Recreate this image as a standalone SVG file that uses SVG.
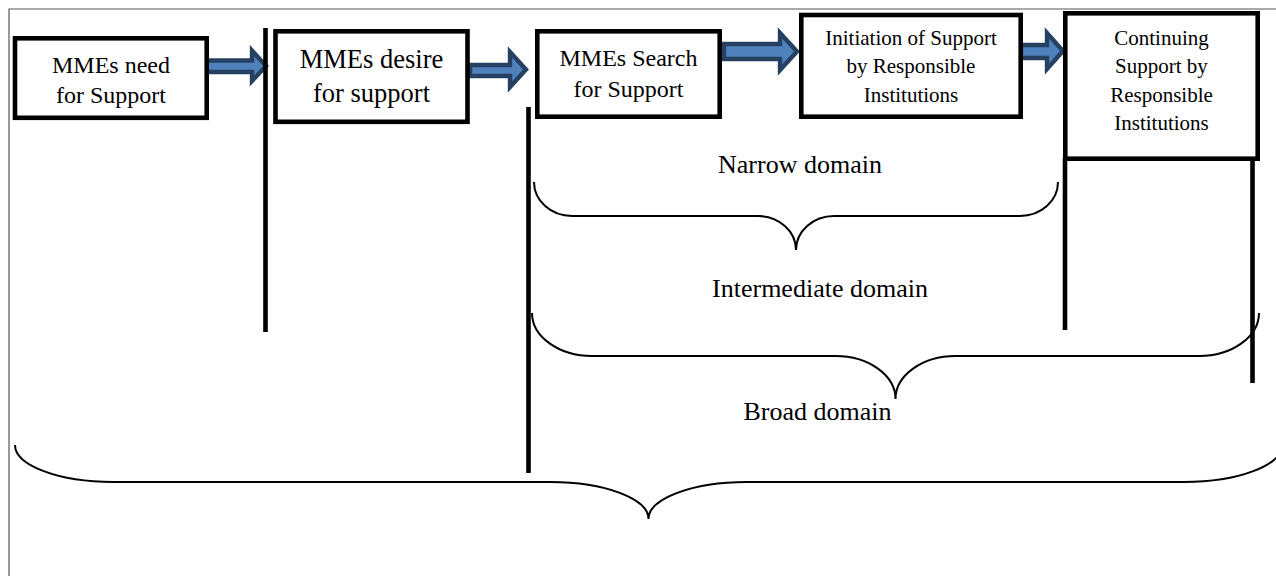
<svg xmlns="http://www.w3.org/2000/svg" width="1276" height="576" viewBox="0 0 1276 576">
<style>
.box{fill:#fff;stroke:#000;stroke-width:4.6}
.t{font-family:"Liberation Serif","Times New Roman",serif;fill:#000;text-anchor:middle}
.bar{stroke:#000;stroke-width:4.6;fill:none}
.brace{stroke:#000;stroke-width:2;fill:none}
.arr{fill:#4F81BD;stroke:#254061;stroke-width:4.4;stroke-linejoin:miter}
.frame{stroke:#555;stroke-width:1.2;fill:none}
</style>
<rect width="1276" height="576" fill="#fff"/>
<path class="frame" d="M9,576 V9 H1276"/>
<g id="connectors">
<path class="arr" d="M204,60.5 H252 V50.5 L266,66 L252,81 V72 H204 Z"/>
<path class="arr" d="M470,65 H510 V52 L526,69.5 L510,87 V76 H470 Z"/>
<path class="arr" d="M724,44 H780 V33 L797,51.5 L780,70 V59 H724 Z"/>
<path class="arr" d="M1021,45 H1047 V33 L1063,51 L1047,69 V58 H1021 Z"/>
</g>
<g id="lines">
<line class="bar" x1="265.5" y1="28" x2="265.5" y2="332"/>
<line class="bar" x1="528.5" y1="107" x2="528.5" y2="473"/>
<line class="bar" x1="1065" y1="158" x2="1065" y2="330"/>
<line class="bar" x1="1252.5" y1="158" x2="1252.5" y2="383"/>
</g>
<g id="n1">
<rect class="box" x="15" y="38.3" width="191.7" height="79.5"/>
<text class="t" font-size="24" x="111" y="73">MMEs need</text>
<text class="t" font-size="24" x="111" y="103">for Support</text>
</g>
<g id="n2">
<rect class="box" x="275.5" y="31.3" width="192" height="90.5"/>
<text class="t" font-size="26.5" x="371.5" y="68">MMEs desire</text>
<text class="t" font-size="26.5" x="371.5" y="102">for support</text>
</g>
<g id="n3">
<rect class="box" x="537.3" y="31.3" width="182.4" height="85.4"/>
<text class="t" font-size="24" x="628.5" y="66">MMEs Search</text>
<text class="t" font-size="24" x="628.5" y="96.5">for Support</text>
</g>
<g id="n4">
<rect class="box" x="801.3" y="15" width="219.4" height="101.7"/>
<text class="t" font-size="21" x="911" y="45">Initiation of Support</text>
<text class="t" font-size="21" x="911" y="73">by Responsible</text>
<text class="t" font-size="21" x="911" y="101.5">Institutions</text>
</g>
<g id="n5">
<rect class="box" x="1065.3" y="13.3" width="192.4" height="145.4"/>
<text class="t" font-size="21" x="1161.5" y="45">Continuing</text>
<text class="t" font-size="21" x="1161.5" y="73">Support by</text>
<text class="t" font-size="21" x="1161.5" y="101.5">Responsible</text>
<text class="t" font-size="21" x="1161.5" y="129.5">Institutions</text>
</g>
<g id="narrow">
<path class="brace" d="M534,182 A38,34 0 0 0 572,216 H758 A38,34 0 0 1 796,250 A38,34 0 0 1 834,216 H1020 A38,34 0 0 0 1058,182"/>
<text class="t" font-size="26" x="800" y="173">Narrow domain</text>
</g>
<g id="intermediate">
<path class="brace" d="M532,313 A60,43 0 0 0 592,356 H835.5 A60,43 0 0 1 895.5,399 A60,43 0 0 1 955.5,356 H1199 A60,43 0 0 0 1259,313"/>
<text class="t" font-size="26" x="820" y="297">Intermediate domain</text>
</g>
<g id="broad">
<path class="brace" d="M15,445 A98,37 0 0 0 113,482 H550.5 A98,37 0 0 1 648.5,519 A98,37 0 0 1 746.5,482 H1184 A98,37 0 0 0 1282,445"/>
<text class="t" font-size="26" x="817.5" y="420">Broad domain</text>
</g>
</svg>
